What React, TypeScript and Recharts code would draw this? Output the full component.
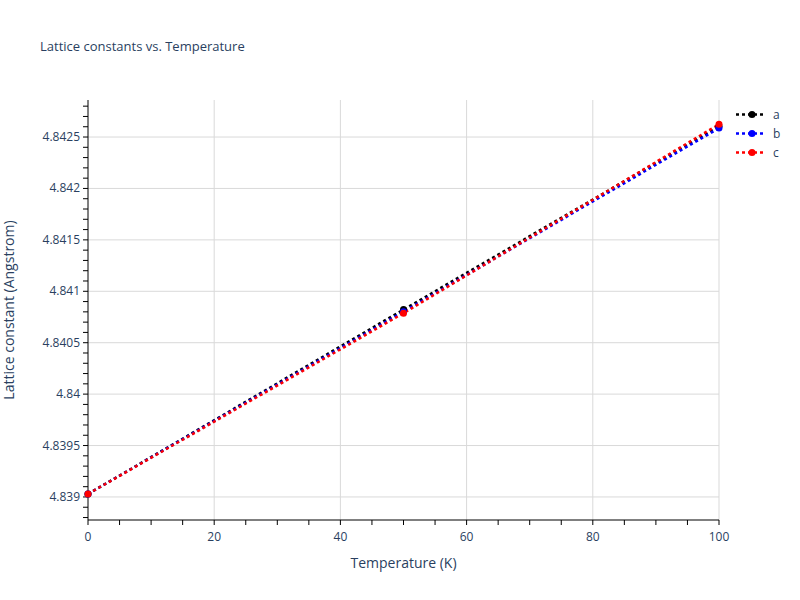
import React from 'react';
import {
  LineChart,
  Line,
  XAxis,
  YAxis,
  CartesianGrid,
  Legend,
} from 'recharts';

const temperatures = [0, 50, 100];
const latticeA = [4.839029, 4.840822, 4.842605];
const latticeB = [4.839029, 4.840802, 4.842587];
const latticeC = [4.839029, 4.840787, 4.842624];

const xTicks = [0, 5, 10, 15, 20, 25, 30, 35, 40, 45, 50, 55, 60, 65, 70, 75, 80, 85, 90, 95, 100];
const xMajor = [0, 20, 40, 60, 80, 100];
const yTicks = [
  4.8388, 4.8389, 4.839, 4.8391, 4.8392, 4.8393, 4.8394, 4.8395, 4.8396, 4.8397, 4.8398, 4.8399,
  4.84, 4.8401, 4.8402, 4.8403, 4.8404, 4.8405, 4.8406, 4.8407, 4.8408, 4.8409,
  4.841, 4.8411, 4.8412, 4.8413, 4.8414, 4.8415, 4.8416, 4.8417, 4.8418, 4.8419,
  4.842, 4.8421, 4.8422, 4.8423, 4.8424, 4.8425, 4.8426, 4.8427, 4.8428,
];
const yMajor = [4.839, 4.8395, 4.84, 4.8405, 4.841, 4.8415, 4.842, 4.8425];

const seriesNames = ['a', 'b', 'c'];
const seriesColors = ['#000000', '#0000ff', '#ff0000'];

const data = temperatures.map((t, i) => ({
  t,
  a: latticeA[i],
  b: latticeB[i],
  c: latticeC[i],
}));

const FONT = '"Open Sans", verdana, arial, sans-serif';
const TEXT = '#2a3f5f';

const isMajor = (v: number, list: number[]) => list.some((m) => Math.abs(m - v) < 1e-7);

function XTick({ x, y, payload }: any) {
  if (!isMajor(payload.value, xMajor)) return null;
  return (
    <text x={x} y={y} dy={14} textAnchor="middle" fill={TEXT} fontSize={12} fontFamily={FONT}>
      {payload.value}
    </text>
  );
}

function YTick({ x, y, payload }: any) {
  if (!isMajor(payload.value, yMajor)) return null;
  const label = String(Number(payload.value.toFixed(4)));
  return (
    <text x={x} y={y} dy={4} textAnchor="end" fill={TEXT} fontSize={12} fontFamily={FONT}>
      {label}
    </text>
  );
}

function LegendBox() {
  return (
    <div style={{ fontFamily: FONT, fontSize: 12, color: TEXT }}>
      {seriesNames.map((name, i) => (
        <div key={name} style={{ display: 'flex', alignItems: 'center', height: 19 }}>
          <svg width={40} height={19}>
            <line x1={3} y1={9.5} x2={33} y2={9.5} stroke={seriesColors[i]} strokeWidth={2.5} strokeDasharray="3 3" />
            <circle cx={19} cy={9.5} r={3.5} fill={seriesColors[i]} />
          </svg>
          <span>{name}</span>
        </div>
      ))}
    </div>
  );
}

export default function App() {
  return (
    <div style={{ position: 'absolute', left: 0, top: 0, width: 800, height: 600, background: '#fff' }}>
      <div
        style={{
          position: 'absolute',
          left: 40,
          top: 37,
          fontFamily: FONT,
          fontSize: 13,
          color: TEXT,
          whiteSpace: 'nowrap',
        }}
      >
        Lattice constants vs. Temperature
      </div>
      <LineChart
        width={800}
        height={600}
        data={data}
        margin={{ top: 100, right: 81, bottom: 0, left: 0 }}
      >
        <CartesianGrid
          stroke="#d9d9d9"
          strokeWidth={1}
          horizontalValues={yMajor}
          verticalValues={[20, 40, 60, 80, 100]}
        />
        <XAxis
          dataKey="t"
          type="number"
          domain={[0, 100]}
          ticks={xTicks}
          interval={0}
          height={80}
          stroke="#000"
          tickSize={5}
          tickMargin={2}
          tickLine={{ stroke: '#000' }}
          tick={<XTick />}
          label={{
            value: 'Temperature (K)',
            position: 'insideBottom',
            offset: 32,
            fill: TEXT,
            fontSize: 14,
            fontFamily: FONT,
          }}
        />
        <YAxis
          type="number"
          domain={[4.838776, 4.84286]}
          allowDataOverflow
          ticks={yTicks}
          interval={0}
          width={88}
          stroke="#000"
          tickSize={5}
          tickMargin={3}
          tickLine={{ stroke: '#000' }}
          tick={<YTick />}
          label={{
            value: 'Lattice constant (Angstrom)',
            position: 'insideLeft',
            angle: -90,
            offset: 9,
            fill: TEXT,
            fontSize: 14,
            fontFamily: FONT,
            style: { textAnchor: 'middle' },
          }}
        />
        <Legend
          layout="horizontal"
          verticalAlign="middle"
          align="center"
          content={() => <LegendBox />}
          wrapperStyle={{ position: 'absolute', top: 105, left: 733, width: 60 }}
        />
        {seriesNames.map((name, i) => (
          <Line
            key={name}
            type="linear"
            dataKey={name}
            stroke={seriesColors[i]}
            strokeWidth={2.5}
            strokeDasharray="3 3"
            dot={{ r: 3.5, fill: seriesColors[i], stroke: seriesColors[i], strokeWidth: 0, strokeDasharray: '' }}
            activeDot={false}
            isAnimationActive={false}
          />
        ))}
      </LineChart>
    </div>
  );
}
